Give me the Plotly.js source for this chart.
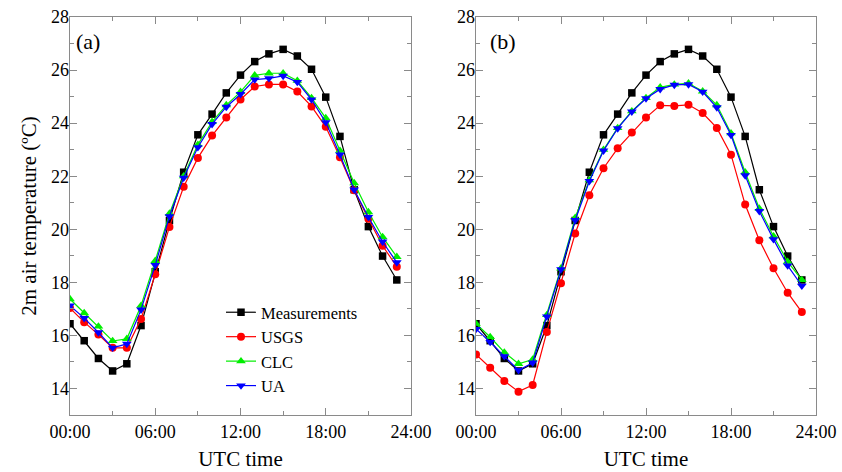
<!DOCTYPE html>
<html><head><meta charset="utf-8">
<script src="https://cdn.plot.ly/plotly-3.0.1.min.js"></script>
<style>html,body{margin:0;padding:0;background:#fff}</style>
</head><body>
<div id="chart" style="width:842px;height:472px"></div>
<script>
const hours = [0,1,2,3,4,5,6,7,8,9,10,11,12,13,14,15,16,17,18,19,20,21,22,23];
const xTickVals = [0,6,12,18,24];
const xTickText = ["00:00","06:00","12:00","18:00","24:00"];
const seriesNames = ["Measurements","USGS","CLC","UA"];

const measurements = [16.44,15.80,15.13,14.66,14.93,16.37,18.40,20.33,22.15,23.56,24.34,25.14,25.81,26.32,26.61,26.78,26.53,26.03,24.98,23.50,21.49,20.10,18.99,18.09];

// panel (a)
const usgsA = [17.03,16.50,16.03,15.53,15.53,16.62,18.30,20.09,21.60,22.69,23.53,24.21,24.89,25.38,25.46,25.46,25.19,24.63,23.86,22.71,21.47,20.40,19.38,18.59];
const clcA  = [17.37,16.84,16.34,15.79,15.87,17.12,18.81,20.59,22.00,23.19,24.05,24.68,25.18,25.80,25.88,25.88,25.60,24.95,24.19,22.96,21.74,20.65,19.71,18.96];
const uaA   = [17.12,16.65,16.11,15.53,15.68,16.97,18.65,20.49,21.94,23.09,23.96,24.61,25.09,25.64,25.69,25.78,25.55,24.89,24.03,22.81,21.49,20.46,19.53,18.75];

// panel (b)
const usgsB = [15.28,14.78,14.28,13.88,14.13,16.13,17.97,19.84,21.28,22.30,23.05,23.65,24.21,24.67,24.65,24.69,24.38,23.82,22.81,20.93,19.59,18.53,17.61,16.88];
const clcB  = [16.44,15.94,15.36,14.93,15.09,16.77,18.53,20.43,21.85,23.00,23.82,24.45,24.95,25.35,25.46,25.50,25.20,24.68,23.62,22.15,20.78,19.74,18.78,18.09];
const uaB   = [16.24,15.75,15.21,14.69,14.97,16.71,18.49,20.34,21.81,22.96,23.80,24.43,24.93,25.28,25.44,25.46,25.18,24.59,23.55,22.03,20.68,19.62,18.63,17.87];

const colors = ["#000000","#ff0000","#00ee00","#0000ff"];
const symbols = ["square","circle","triangle-up","triangle-down"];
const sizes = [7.5,8,8.5,8.5];

function mk(y, i, xa, ya, showlegend){
  return {x:hours, y:y, type:"scatter", mode:"lines+markers", name:seriesNames[i],
    xaxis:xa, yaxis:ya, showlegend:showlegend,
    line:{color:colors[i], width:1.2},
    marker:{symbol:symbols[i], size:sizes[i], color:colors[i], line:{width:0}}};
}
const traces = [
  mk(measurements,0,"x","y",true), mk(usgsA,1,"x","y",true), mk(clcA,2,"x","y",true), mk(uaA,3,"x","y",true),
  mk(measurements,0,"x2","y2",false), mk(usgsB,1,"x2","y2",false), mk(clcB,2,"x2","y2",false), mk(uaB,3,"x2","y2",false)
];

const F = "Liberation Serif, Times New Roman, serif";
const axCol = "#8a8a8a";
function xax(dom, anchor){
  return {domain:dom, anchor:anchor, range:[0,24], tickmode:"array", tickvals:xTickVals, ticktext:xTickText,
    ticks:"inside", ticklen:7, tickwidth:1, tickcolor:axCol, showline:true, linecolor:axCol, linewidth:1.3,
    mirror:"allticks", showgrid:false, zeroline:false,
    minor:{tickmode:"array", tickvals:[3,9,15,21], ticks:"inside", ticklen:4, tickcolor:axCol, showgrid:false},
    tickfont:{family:F, size:18, color:"#000"},
    title:{text:"UTC time", font:{family:F, size:21, color:"#000"}, standoff:10}};
}
function yax(dom, anchor, title){
  return {domain:dom, anchor:anchor, range:[13,28], tickmode:"linear", tick0:0, dtick:2,
    ticks:"inside", ticklen:7, tickwidth:1, tickcolor:axCol, showline:true, linecolor:axCol, linewidth:1.3,
    mirror:"allticks", showgrid:false, zeroline:false, ticklabelstandoff:-4,
    minor:{dtick:1, ticks:"inside", ticklen:4, tickcolor:axCol, showgrid:false},
    tickfont:{family:F, size:18, color:"#000"},
    title: title ? {text:title, font:{family:F, size:21, color:"#000"}, standoff:8} : {text:""}};
}
const yDom = [1-415/472, 1-17/472];
const layout = {
  width:842, height:472, margin:{l:0,r:0,t:0,b:0},
  paper_bgcolor:"#fff", plot_bgcolor:"#fff",
  font:{family:F, color:"#000"},
  xaxis: xax([70/842, 411/842], "y"),
  yaxis: yax(yDom, "x", "2m air temperature (ºC)"),
  xaxis2: xax([476/842, 816/842], "y2"),
  yaxis2: yax(yDom, "x2", null),
  showlegend:true,
  legend:{x:221/842, y:1-295/472, xanchor:"left", yanchor:"top", bgcolor:"rgba(0,0,0,0)",
    font:{family:F, size:16.5, color:"#000"}, tracegroupgap:0, itemwidth:30},
  annotations:[
    {text:"(a)", xref:"paper", yref:"paper", x:74/842, y:1-42/472, xanchor:"left", yanchor:"middle", showarrow:false, font:{family:F, size:22, color:"#000"}},
    {text:"(b)", xref:"paper", yref:"paper", x:488/842, y:1-42/472, xanchor:"left", yanchor:"middle", showarrow:false, font:{family:F, size:22, color:"#000"}}
  ]
};
Plotly.newPlot("chart", traces, layout, {displayModeBar:false, staticPlot:true});
</script>
</body></html>
